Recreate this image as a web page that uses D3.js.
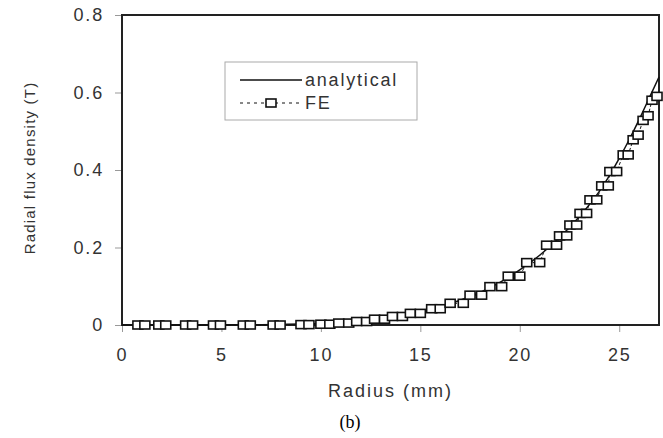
<!DOCTYPE html>
<html>
<head>
<meta charset="utf-8">
<script src="https://d3js.org/d3.v7.min.js"></script>
<style>
  body { margin: 0; background: #fff; }
  .tick text { font-family: "Liberation Sans", Arial, sans-serif; }
</style>
</head>
<body>
<div id="chart"></div>
<script>
// Analytical curve (radius mm, flux density T)
var anaRadius = [0, 2, 4, 6, 8, 9, 10, 11, 12, 13, 14, 15, 16, 17, 18, 19, 20, 21, 22, 23, 24, 24.5, 25, 25.5, 26, 26.5, 27];
var anaFlux = [0, 0, 0, 0.0005, 0.0015, 0.0025, 0.004, 0.007, 0.011, 0.017, 0.024, 0.034, 0.047, 0.064, 0.084, 0.11, 0.142, 0.18, 0.226, 0.28, 0.345, 0.385, 0.43, 0.478, 0.53, 0.585, 0.64];

// FE results (radius mm, flux density T)
var feRadius = [0.8, 1.15, 1.85, 2.2, 3.2, 3.55, 4.6, 4.95, 6.1, 6.45, 7.6, 7.95, 9.0, 9.4,
  10.0, 10.45, 10.9, 11.4, 11.8, 12.3, 12.7, 13.2, 13.6, 14.1, 14.5, 15.0,
  15.57, 16.0, 16.5, 17.16, 17.5, 18.08, 18.5, 19.09, 19.42, 20.0, 20.35, 21.0,
  21.35, 21.85, 22.0, 22.36, 22.52, 22.86, 23.03, 23.36, 23.53, 23.87, 24.12, 24.45,
  24.53, 24.87, 25.2, 25.45, 25.7, 25.95, 26.2, 26.45, 26.65, 26.9];
var feFlux = [0, 0, 0, 0, 0, 0, 0, 0, 0, 0, 0, 0, 0.001, 0.001,
  0.002, 0.002, 0.005, 0.005, 0.009, 0.009, 0.015, 0.015, 0.022, 0.022, 0.03, 0.03,
  0.042, 0.042, 0.056, 0.056, 0.077, 0.077, 0.099, 0.099, 0.126, 0.126, 0.161, 0.161,
  0.206, 0.206, 0.23, 0.23, 0.258, 0.258, 0.288, 0.288, 0.323, 0.323, 0.359, 0.359,
  0.396, 0.396, 0.439, 0.439, 0.478, 0.49, 0.528, 0.54, 0.58, 0.59];

var xTicks = [0, 5, 10, 15, 20, 25];
var yTicks = [0, 0.2, 0.4, 0.6, 0.8];
var seriesNames = ["analytical", "FE"];

// SVG area
var svgWidth = 663;
var svgHeight = 438;
var margin = { top: 15, right: 4, bottom: 113, left: 122 };
var chartWidth = svgWidth - margin.left - margin.right;
var chartHeight = svgHeight - margin.top - margin.bottom;

var fontFam = "'Liberation Sans', Arial, Helvetica, sans-serif";
var textCol = "#333";

var svg = d3.select("#chart")
  .append("svg")
  .attr("width", svgWidth)
  .attr("height", svgHeight);

var chartGroup = svg.append("g")
  .attr("transform", `translate(${margin.left}, ${margin.top})`);

// Scales
var xScale = d3.scaleLinear().domain([0, 27]).range([0, chartWidth]);
var yScale = d3.scaleLinear().domain([0, 0.8]).range([chartHeight, 0]);

// Axes
var bottomAxis = d3.axisBottom(xScale)
  .tickValues(xTicks)
  .tickSize(7)
  .tickPadding(16)
  .tickFormat(d3.format("d"));
var leftAxis = d3.axisLeft(yScale)
  .tickValues(yTicks)
  .tickSize(7)
  .tickPadding(11)
  .tickFormat(function (d) { return d === 0 ? "0" : d3.format(".1f")(d); });

var xAxis = chartGroup.append("g")
  .attr("transform", `translate(0, ${chartHeight})`)
  .call(bottomAxis);
var yAxis = chartGroup.append("g")
  .call(leftAxis);

[xAxis, yAxis].forEach(function (ax) {
  ax.select(".domain").remove();
  ax.selectAll(".tick line").attr("stroke", "#999").attr("stroke-width", 1);
  ax.selectAll(".tick text")
    .attr("fill", textCol)
    .attr("font-size", 18)
    .attr("letter-spacing", 1.8);
});

// Plot frame
chartGroup.append("rect")
  .attr("x", 0)
  .attr("y", 0)
  .attr("width", chartWidth)
  .attr("height", chartHeight)
  .attr("fill", "none")
  .attr("stroke", "#222")
  .attr("stroke-width", 2);

// Analytical line
var anaData = anaRadius.map(function (r, i) { return { r: r, b: anaFlux[i] }; });
var feData = feRadius.map(function (r, i) { return { r: r, b: feFlux[i] }; });

var line = d3.line()
  .x(function (d) { return xScale(d.r); })
  .y(function (d) { return yScale(d.b); })
  .curve(d3.curveMonotoneX);

chartGroup.append("path")
  .datum(anaData)
  .attr("d", line)
  .attr("fill", "none")
  .attr("stroke", "#111")
  .attr("stroke-width", 1.5);

// FE dashed line + squares
var feLine = d3.line()
  .x(function (d) { return xScale(d.r); })
  .y(function (d) { return yScale(d.b); });

chartGroup.append("path")
  .datum(feData)
  .attr("d", feLine)
  .attr("fill", "none")
  .attr("stroke", "#111")
  .attr("stroke-width", 1)
  .attr("stroke-dasharray", "3,2");

chartGroup.selectAll("rect.fe")
  .data(feData)
  .enter()
  .append("rect")
  .attr("class", "fe")
  .attr("x", function (d) { return xScale(d.r) - 5; })
  .attr("y", function (d) { return yScale(d.b) - 4; })
  .attr("width", 10)
  .attr("height", 8)
  .attr("fill", "#fff")
  .attr("stroke", "#111")
  .attr("stroke-width", 1.6);

// Legend
var legend = svg.append("g").attr("transform", "translate(225, 62)");
legend.append("rect")
  .attr("width", 192)
  .attr("height", 58)
  .attr("fill", "#fff")
  .attr("stroke", "#aaa")
  .attr("stroke-width", 1);

legend.append("line")
  .attr("x1", 15).attr("x2", 77)
  .attr("y1", 18).attr("y2", 18)
  .attr("stroke", "#111").attr("stroke-width", 1.5);
legend.append("line")
  .attr("x1", 15).attr("x2", 77)
  .attr("y1", 41).attr("y2", 41)
  .attr("stroke", "#111").attr("stroke-width", 1)
  .attr("stroke-dasharray", "3,4");
legend.append("rect")
  .attr("x", 41).attr("y", 37)
  .attr("width", 10).attr("height", 8)
  .attr("fill", "#fff").attr("stroke", "#111").attr("stroke-width", 1.6);

legend.selectAll("text.leg")
  .data(seriesNames)
  .enter()
  .append("text")
  .attr("class", "leg")
  .attr("x", 80)
  .attr("y", function (d, i) { return 24 + i * 23; })
  .attr("font-family", fontFam)
  .attr("font-size", 18)
  .attr("letter-spacing", 1.8)
  .attr("fill", textCol)
  .text(function (d) { return d; });

// Axis labels
svg.append("text")
  .attr("transform", "translate(35, 168) rotate(-90)")
  .attr("text-anchor", "middle")
  .attr("font-family", fontFam)
  .attr("font-size", 15)
  .attr("letter-spacing", 1.2)
  .attr("fill", textCol)
  .text("Radial flux density (T)");

svg.append("text")
  .attr("x", margin.left + chartWidth / 2)
  .attr("y", 397)
  .attr("text-anchor", "middle")
  .attr("font-family", fontFam)
  .attr("font-size", 18)
  .attr("letter-spacing", 2)
  .attr("fill", textCol)
  .text("Radius (mm)");

svg.append("text")
  .attr("x", 350)
  .attr("y", 428)
  .attr("text-anchor", "middle")
  .attr("font-family", "'Liberation Serif', 'Times New Roman', serif")
  .attr("font-size", 18)
  .attr("fill", "#000")
  .text("(b)");
</script>
</body>
</html>
